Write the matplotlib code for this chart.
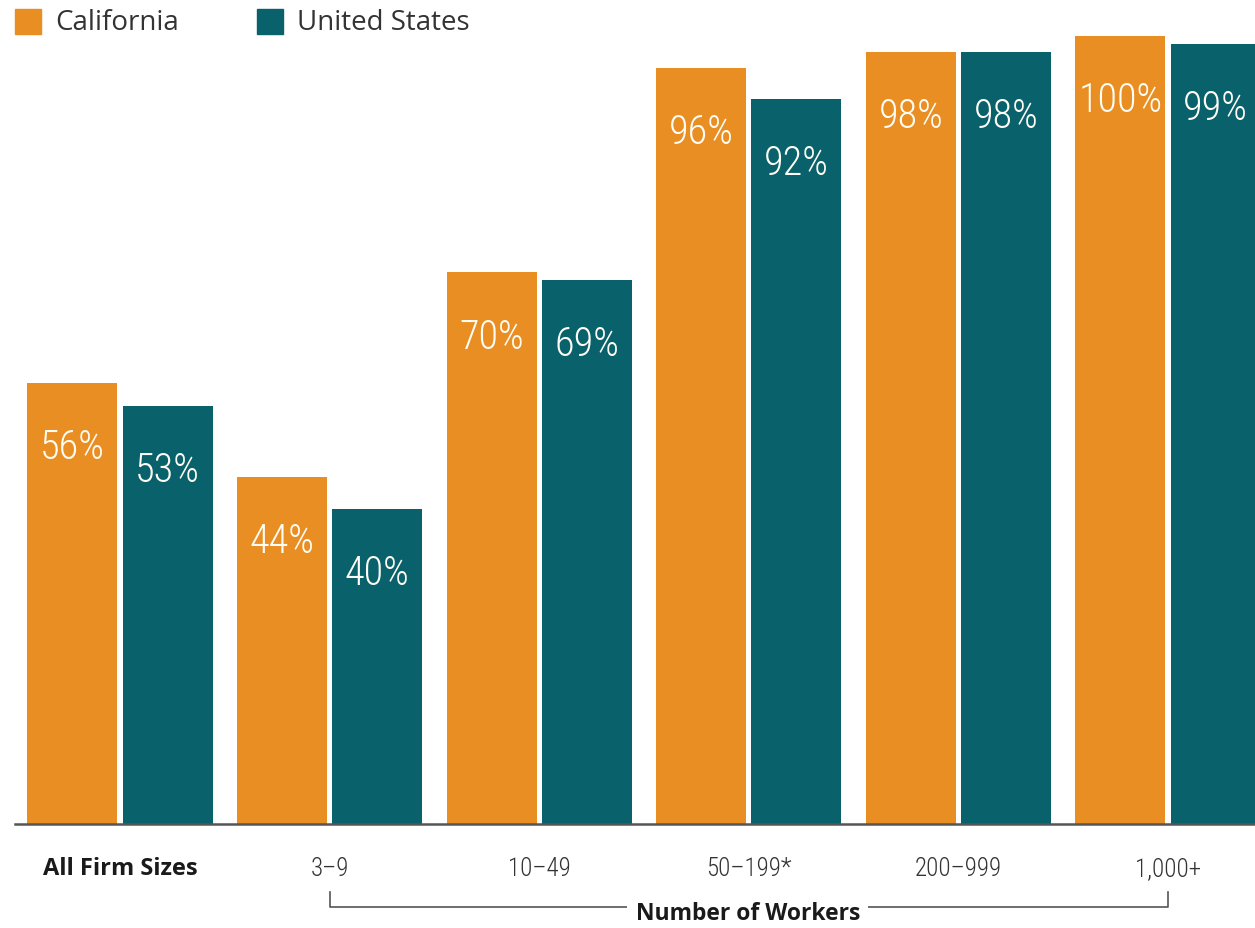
import matplotlib
matplotlib.use('Agg')
import matplotlib.pyplot as plt
from matplotlib.patches import Rectangle
import numpy as np
import logging

logging.getLogger('matplotlib.font_manager').setLevel(logging.ERROR)

categories = ['All Firm Sizes', '3–9', '10–49', '50–199*', '200–999', '1,000+']
california = [56, 44, 70, 96, 98, 100]
united_states = [53, 40, 69, 92, 98, 99]
series_names = ['California', 'United States']

orange = '#E98E23'
teal = '#08616B'
narrow = ['Roboto Condensed', 'Archivo Narrow', 'DejaVu Sans']
regular = ['Open Sans', 'Lato', 'DejaVu Sans']

W, H = 1255, 929
fig = plt.figure(figsize=(W / 100, H / 100), dpi=100)
ax = fig.add_axes([15 / W, (H - 825) / H, 1 - 15 / W, (825 - 37) / H])

x = np.arange(len(categories))
bar_w = 0.43
off = 0.227
b1 = ax.bar(x - off, california, bar_w, color=orange, zorder=2)
b2 = ax.bar(x + off, united_states, bar_w, color=teal, zorder=2)

# value labels inside bars, near the top
for bars, vals in ((b1, california), (b2, united_states)):
    for rect, v in zip(bars, vals):
        ax.annotate(f'{v}%', (rect.get_x() + rect.get_width() / 2, v),
                    xytext=(0, -46), textcoords='offset points',
                    ha='center', va='center', color='#FFFDF5',
                    fontsize=29, fontweight='light', family=narrow, zorder=3)

ax.set_xlim((15 - 120) / 209.6, (1255 - 120) / 209.6)
ax.set_ylim(0, 100)
for s in ['top', 'right', 'left']:
    ax.spines[s].set_visible(False)
ax.spines['bottom'].set_color('#555555')
ax.spines['bottom'].set_linewidth(1.8)
ax.spines['bottom'].set_zorder(3)
ax.set_yticks([])
ax.set_xticks(x)
ax.set_xticklabels(categories, fontsize=18, fontweight='light', color='#333333',
                   family=narrow)
ax.tick_params(axis='x', length=0, pad=23)
first = ax.get_xticklabels()[0]
first.set_family(regular)
first.set_fontweight('bold')
first.set_color('#1a1a1a')
first.set_fontsize(17)

# bracket under the worker-size groups
trans = ax.get_xaxis_transform()
y_low, y_tick = (825 - 908) / 788, (825 - 893) / 788
ax.plot([1, 1, 5, 5], [y_tick, y_low, y_low, y_tick], color='#555555', lw=1.2,
        transform=trans, clip_on=False)
ax.text(2.995, (825 - 914) / 788, 'Number of Workers', transform=trans,
        ha='center', va='center', fontsize=16.5, fontweight='bold',
        color='#1a1a1a', family=regular,
        bbox=dict(facecolor='white', edgecolor='none', pad=6))

# legend at top left
for name, col, x0 in zip(series_names, [orange, teal], [15, 257]):
    fig.patches.append(Rectangle((x0 / W, (H - 35) / H), 26 / W, 25 / H,
                                 transform=fig.transFigure, color=col))
    fig.text((x0 + 40) / W, (H - 23) / H, name, ha='left', va='center',
             fontsize=20, color='#333333', family=regular)

fig.savefig('out.png', dpi=100)
